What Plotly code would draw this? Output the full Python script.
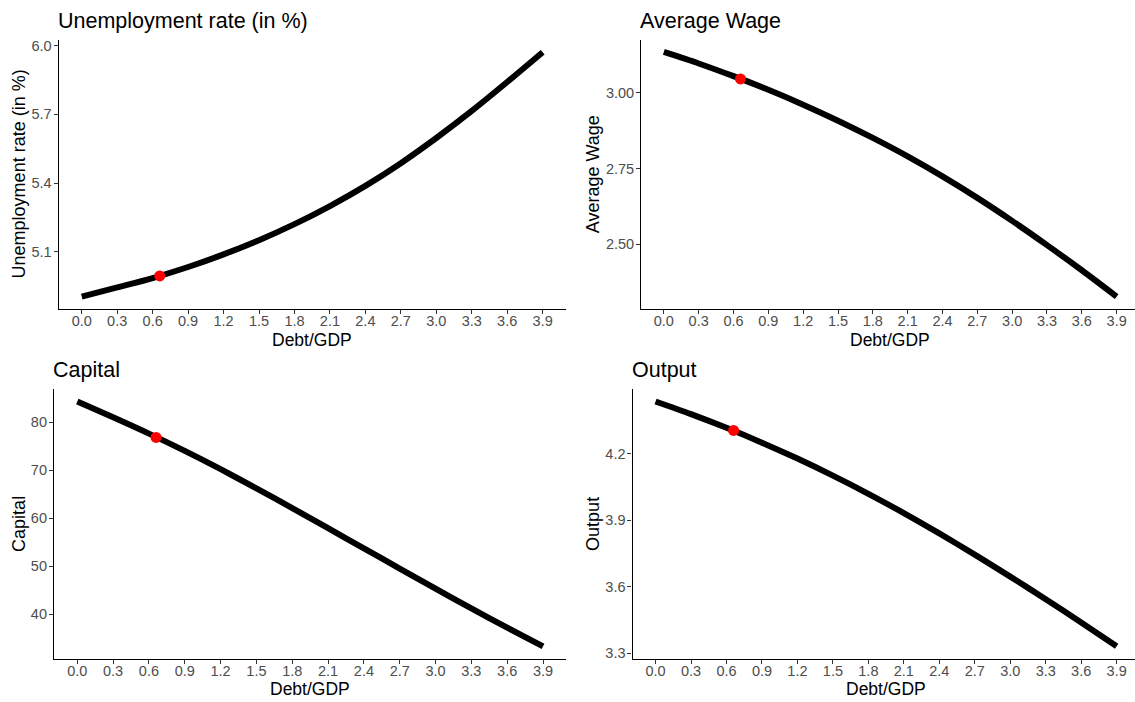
import plotly.graph_objects as go

W, H = 1135, 702

debt_gdp = [0.0, 0.3, 0.6, 0.9, 1.2, 1.5, 1.8, 2.1, 2.4, 2.7, 3.0, 3.3, 3.6, 3.9]
unemployment = [4.905, 4.945, 4.986, 5.034, 5.089, 5.151, 5.221, 5.300, 5.388, 5.487, 5.597, 5.715, 5.841, 5.971]
avg_wage = [3.135, 3.097, 3.055, 3.010, 2.961, 2.908, 2.851, 2.790, 2.724, 2.653, 2.577, 2.497, 2.414, 2.327]
capital = [84.3, 81.0, 77.6, 74.0, 70.2, 66.2, 62.1, 57.9, 53.7, 49.5, 45.3, 41.2, 37.2, 33.3]
output = [4.437, 4.380, 4.318, 4.251, 4.179, 4.102, 4.020, 3.933, 3.841, 3.745, 3.646, 3.544, 3.439, 3.331]

current_debt = 0.66
current_unemployment = 4.995
current_wage = 3.046
current_capital = 76.8
current_output = 4.306

titles = ["Unemployment rate (in %)", "Average Wage", "Capital", "Output"]
x_title = "Debt/GDP"

series = [unemployment, avg_wage, capital, output]
points = [current_unemployment, current_wage, current_capital, current_output]
y_ticks = [[5.1, 5.4, 5.7, 6.0], [2.50, 2.75, 3.00], [40, 50, 60, 70, 80], [3.3, 3.6, 3.9, 4.2]]
y_fmt = [".1f", ".2f", "d", ".1f"]

# panel boxes in pixels: (left, right, top, bottom)
boxes = [(58.7, 565.7, 38.3, 309.0), (641.2, 1135.0, 38.0, 309.0),
         (54.0, 566.3, 390.0, 661.3), (632.5, 1135.0, 390.0, 661.3)]
# pixel where x extent would end if not cropped
full_right = [565.7, 1139.3, 566.3, 1139.7]
ytitle_x = [19, 593, 19, 593]

FONT = "Liberation Sans, Arial, sans-serif"

fig = go.Figure()
layout = dict(width=W, height=H, margin=dict(l=0, r=0, t=0, b=0),
              paper_bgcolor="white", plot_bgcolor="white", showlegend=False,
              font=dict(family=FONT))
annotations = []

xmin, xmax = min(debt_gdp), max(debt_gdp)
xspan = xmax - xmin
for i in range(4):
    ax = "" if i == 0 else str(i + 1)
    L, R, T, B = boxes[i]
    ys = series[i]
    ymin, ymax = min(ys), max(ys)
    span = ymax - ymin
    yr = [ymin - 0.05 * span, ymax + 0.05 * span]
    x0 = xmin - 0.05 * xspan
    x1full = xmax + 0.05 * xspan
    frac = (R - L) / (full_right[i] - L)
    x1 = x0 + (x1full - x0) * frac

    fig.add_trace(go.Scatter(x=debt_gdp, y=ys, mode="lines",
                             line=dict(color="black", width=6, shape="spline", smoothing=0.8),
                             xaxis="x" + ax, yaxis="y" + ax, hoverinfo="skip"))
    fig.add_trace(go.Scatter(x=[current_debt], y=[points[i]], mode="markers",
                             marker=dict(color="#FF0000", size=11),
                             xaxis="x" + ax, yaxis="y" + ax, hoverinfo="skip"))

    common = dict(showline=True, linecolor="black", linewidth=1.2, showgrid=False,
                  zeroline=False, ticks="outside", ticklen=4, tickwidth=1.1,
                  tickcolor="#333333", tickfont=dict(size=14.5, color="#4D4D4D", family=FONT))
    layout["xaxis" + ax] = dict(domain=[L / W, R / W], anchor="y" + ax,
                                range=[x0, x1], tickmode="array", tickvals=debt_gdp,
                                ticktext=[f"{v:.1f}" for v in debt_gdp],
                                ticklabelstandoff=-5, **common)
    layout["yaxis" + ax] = dict(domain=[1 - B / H, 1 - T / H], anchor="x" + ax,
                                range=yr, tickmode="array", tickvals=y_ticks[i],
                                ticktext=[format(v, y_fmt[i]) for v in y_ticks[i]],
                                ticklabelstandoff=-1, **common)

    annotations.append(dict(text=titles[i], xref="paper", yref="paper",
                            x=(L - 3) / W, y=1 - (T - 19) / H, xanchor="left", yanchor="middle",
                            showarrow=False, font=dict(size=21.5, color="black", family=FONT)))
    xc = (L + min(full_right[i], 1139)) / 2
    annotations.append(dict(text=x_title, xref="paper", yref="paper",
                            x=xc / W, y=1 - (B + 31) / H, xanchor="center", yanchor="middle",
                            showarrow=False, font=dict(size=17.5, color="black", family=FONT)))
    annotations.append(dict(text=titles[i], xref="paper", yref="paper",
                            x=ytitle_x[i] / W, y=1 - ((T + B) / 2) / H, xanchor="center",
                            yanchor="middle", textangle=-90,
                            showarrow=False, font=dict(size=18, color="black", family=FONT)))

layout["annotations"] = annotations
fig.update_layout(**layout)
fig.write_html("out.html")
